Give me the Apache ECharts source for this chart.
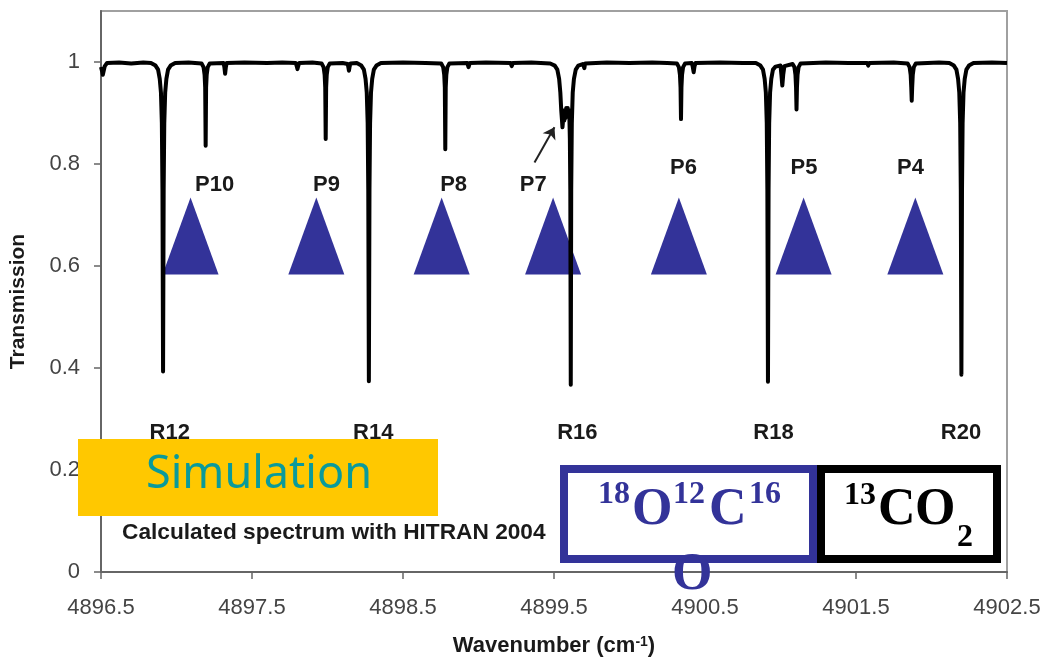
<!DOCTYPE html>
<html>
<head>
<meta charset="utf-8">
<script src="https://cdn.jsdelivr.net/npm/echarts@6/dist/echarts.min.js"></script>
<style>
html,body{margin:0;padding:0;background:#fff;}
#chart{width:1044px;height:663px;}
</style>
</head>
<body>
<div id="chart"></div>
<script>
// ---- data ----
const xTicks = [4896.5, 4897.5, 4898.5, 4899.5, 4900.5, 4901.5, 4902.5];
const yTicks = [0, 0.2, 0.4, 0.6, 0.8, 1];

// calculated transmission spectrum [wavenumber, transmission]
const spectrum = [
 [4896.500, 0.990],[4896.507, 0.982],[4896.512, 0.975],[4896.518, 0.976],[4896.525, 0.992],
 [4896.540, 0.998],[4896.620, 0.999],[4896.700, 0.997],[4896.780, 0.999],
 [4896.831, 0.998],[4896.861, 0.993],[4896.878, 0.985],[4896.889, 0.967],[4896.897, 0.940],
 [4896.903, 0.880],[4896.907, 0.750],[4896.911, 0.393],[4896.915, 0.750],[4896.919, 0.880],
 [4896.925, 0.940],[4896.933, 0.967],[4896.944, 0.985],[4896.961, 0.993],[4896.991, 0.998],
 [4897.080, 0.999],
 [4897.166, 0.997],[4897.179, 0.990],[4897.186, 0.975],[4897.190, 0.950],[4897.193, 0.836],
 [4897.196, 0.950],[4897.200, 0.975],[4897.207, 0.990],[4897.220, 0.997],
 [4897.312, 0.998],[4897.317, 0.990],[4897.322, 0.977],[4897.327, 0.990],[4897.332, 0.998],
 [4897.450, 0.999],[4897.600, 0.998],[4897.700, 0.999],
 [4897.790, 0.998],[4897.796, 0.992],[4897.801, 0.986],[4897.806, 0.992],[4897.812, 0.998],
 [4897.900, 0.999],
 [4897.961, 0.997],[4897.974, 0.990],[4897.981, 0.975],[4897.985, 0.950],[4897.988, 0.849],
 [4897.991, 0.950],[4897.995, 0.975],[4898.002, 0.990],[4898.015, 0.997],
 [4898.100, 0.998],[4898.134, 0.996],[4898.138, 0.990],[4898.142, 0.983],[4898.146, 0.990],
 [4898.152, 0.997],
 [4898.194, 0.998],[4898.224, 0.993],[4898.241, 0.985],[4898.252, 0.967],[4898.260, 0.940],
 [4898.266, 0.880],[4898.270, 0.750],[4898.274, 0.374],[4898.278, 0.750],[4898.282, 0.880],
 [4898.288, 0.940],[4898.296, 0.967],[4898.307, 0.985],[4898.324, 0.993],[4898.354, 0.998],
 [4898.500, 0.999],[4898.650, 0.998],
 [4898.753, 0.997],[4898.766, 0.990],[4898.773, 0.975],[4898.777, 0.950],[4898.780, 0.829],
 [4898.783, 0.950],[4898.787, 0.975],[4898.794, 0.990],[4898.807, 0.997],
 [4898.926, 0.998],[4898.930, 0.994],[4898.934, 0.990],[4898.938, 0.994],[4898.942, 0.998],
 [4899.050, 0.999],
 [4899.212, 0.998],[4899.216, 0.995],[4899.220, 0.992],[4899.224, 0.995],[4899.228, 0.998],
 [4899.350, 0.999],
 [4899.475, 0.997],[4899.505, 0.993],[4899.522, 0.985],[4899.534, 0.967],[4899.542, 0.940],
 [4899.548, 0.905],[4899.553, 0.885],[4899.556, 0.872],[4899.560, 0.885],[4899.564, 0.905],
 [4899.568, 0.885],[4899.572, 0.905],[4899.576, 0.890],[4899.581, 0.910],[4899.586, 0.895],
 [4899.591, 0.910],[4899.596, 0.895],[4899.601, 0.905],[4899.605, 0.850],[4899.608, 0.750],
 [4899.611, 0.367],[4899.614, 0.750],[4899.618, 0.880],[4899.624, 0.940],[4899.632, 0.967],
 [4899.644, 0.985],[4899.661, 0.993],[4899.690, 0.996],[4899.697, 0.992],[4899.701, 0.988],
 [4899.706, 0.997],
 [4899.850, 0.999],[4900.000, 0.998],[4900.150, 0.999],[4900.250, 0.998],
 [4900.314, 0.997],[4900.327, 0.990],[4900.334, 0.975],[4900.338, 0.950],[4900.341, 0.888],
 [4900.344, 0.950],[4900.348, 0.975],[4900.355, 0.990],[4900.368, 0.997],
 [4900.412, 0.998],[4900.418, 0.992],[4900.425, 0.980],[4900.431, 0.992],[4900.438, 0.998],
 [4900.600, 0.999],[4900.750, 0.998],
 [4900.837, 0.998],[4900.867, 0.993],[4900.884, 0.985],[4900.895, 0.967],[4900.903, 0.940],
 [4900.909, 0.880],[4900.913, 0.750],[4900.917, 0.373],[4900.921, 0.750],[4900.925, 0.880],
 [4900.931, 0.940],[4900.939, 0.967],[4900.950, 0.985],[4900.967, 0.991],
 [4901.000, 0.993],[4901.006, 0.975],[4901.012, 0.954],[4901.018, 0.975],[4901.026, 0.992],
 [4901.080, 0.996],
 [4901.092, 0.990],[4901.099, 0.975],[4901.103, 0.950],[4901.106, 0.907],[4901.109, 0.950],
 [4901.113, 0.975],[4901.120, 0.990],[4901.133, 0.997],
 [4901.300, 0.999],[4901.450, 0.998],
 [4901.574, 0.998],[4901.578, 0.995],[4901.581, 0.993],[4901.584, 0.995],[4901.588, 0.998],
 [4901.750, 0.999],
 [4901.842, 0.997],[4901.855, 0.990],[4901.862, 0.975],[4901.866, 0.950],[4901.869, 0.924],
 [4901.872, 0.950],[4901.876, 0.975],[4901.883, 0.990],[4901.896, 0.997],
 [4902.050, 0.999],
 [4902.118, 0.998],[4902.148, 0.993],[4902.165, 0.985],[4902.176, 0.967],[4902.184, 0.940],
 [4902.190, 0.880],[4902.194, 0.750],[4902.198, 0.387],[4902.202, 0.750],[4902.206, 0.880],
 [4902.212, 0.940],[4902.220, 0.967],[4902.231, 0.985],[4902.248, 0.993],[4902.278, 0.998],
 [4902.400, 0.999],[4902.500, 0.998]
];

// 18O12C16O marker triangles (P-branch lines)
const triangleX = [4897.093, 4897.926, 4898.756, 4899.494, 4900.327, 4901.153, 4901.893];
const triangleY = [0.659, 0.659, 0.659, 0.659, 0.659, 0.659, 0.659];

// P-line labels
const pNames = ['P10', 'P9', 'P8', 'P7', 'P6', 'P5', 'P4'];
const pX = [4897.252, 4897.993, 4898.835, 4899.363, 4900.358, 4901.156, 4901.861];
const pY = [0.759, 0.759, 0.759, 0.759, 0.793, 0.793, 0.793];

// R-line labels
const rNames = ['R12', 'R14', 'R16', 'R18', 'R20'];
const rX = [4896.955, 4898.303, 4899.655, 4900.954, 4902.195];
const rY = [0.273, 0.273, 0.272, 0.272, 0.272];

// arrow pointing at P7
const arrowFrom = [4899.371, 0.803];
const arrowTo = [4899.503, 0.872];

// ---- chart ----
const SANS = 'Liberation Sans, Arial, sans-serif';
const SERIF = 'Liberation Serif, Times New Roman, serif';
const TXT = '#1a1a1a';
const BLUE = '#333399';

const labelData = (names, xs, ys) => names.map((n, i) => ({ name: n, value: [xs[i], ys[i]] }));

const chart = echarts.init(document.getElementById('chart'), null, { renderer: 'canvas' });

const option = {
  animation: false,
  backgroundColor: '#ffffff',
  grid: { left: 98, right: 37, top: 11, bottom: 91, show: true, borderColor: '#a0a0a0', borderWidth: 2, backgroundColor: 'transparent' },
  xAxis: {
    type: 'value', min: 4896.5, max: 4902.5,
    axisLine: { show: true, onZero: false, lineStyle: { color: '#666', width: 2 } },
    axisTick: { show: true, customValues: xTicks, length: 7, lineStyle: { color: '#666', width: 1.5 } },
    axisLabel: { customValues: xTicks, formatter: v => v.toFixed(1), fontSize: 22, color: '#444', fontFamily: SANS, margin: 25 },
    splitLine: { show: false },
    name: '{a|Wavenumber (cm}{s|-1}{a|)}', nameLocation: 'middle', nameGap: 63,
    nameTextStyle: { rich: {
      a: { fontSize: 22, fontWeight: 'bold', fontFamily: SANS, color: TXT },
      s: { fontSize: 14, fontWeight: 'bold', fontFamily: SANS, color: TXT, verticalAlign: 'top', lineHeight: 14 }
    } }
  },
  yAxis: {
    type: 'value', min: 0, max: 1.1,
    axisLine: { show: true, onZero: false, lineStyle: { color: '#666', width: 2 } },
    axisTick: { show: true, customValues: yTicks, length: 7, lineStyle: { color: '#666', width: 1.5 } },
    axisLabel: { customValues: yTicks, fontSize: 22, color: '#444', fontFamily: SANS, margin: 21 },
    splitLine: { show: false },
    name: 'Transmission', nameLocation: 'middle', nameGap: 72, nameRotate: 90,
    nameTextStyle: { fontSize: 21, fontWeight: 'bold', fontFamily: SANS, color: TXT, padding: [0, 20, 0, 0] }
  },
  series: [
    {
      type: 'scatter', z: 1, silent: true,
      symbol: 'triangle', symbolSize: [56, 77],
      itemStyle: { color: BLUE, opacity: 1 },
      data: triangleX.map((x, i) => [x, triangleY[i]])
    },
    {
      type: 'line', z: 3, silent: true, showSymbol: false, symbol: 'none',
      lineStyle: { color: '#000', width: 4, join: 'round' },
      data: spectrum,
      markLine: {
        silent: true, animation: false,
        symbol: ['none', 'arrow'], symbolSize: 11,
        lineStyle: { color: '#222', width: 2, type: 'solid' },
        label: { show: false },
        data: [[{ coord: arrowFrom }, { coord: arrowTo }]]
      }
    },
    {
      type: 'scatter', z: 4, silent: true, symbolSize: 0.5,
      itemStyle: { color: '#fff', opacity: 1 },
      label: { show: true, position: 'inside', formatter: '{b}', fontSize: 22, fontWeight: 'bold', fontFamily: SANS, color: TXT, opacity: 1, textBorderWidth: 0 },
      data: labelData(pNames, pX, pY).concat(labelData(rNames, rX, rY))
    }
  ],
  graphic: [
    { type: 'rect', z: 100, shape: { x: 78, y: 439, width: 360, height: 77 }, style: { fill: '#FFC800' } },
    { type: 'text', z: 101, x: 259, y: 475, style: { text: 'Simulation', fontSize: 45, fontFamily: 'Comic Sans MS, Noto Sans, sans-serif', fill: '#0A9A9A', align: 'center', verticalAlign: 'middle' } },
    { type: 'text', z: 101, x: 122, y: 533, style: { text: 'Calculated spectrum with HITRAN 2004', fontSize: 22.7, fontWeight: 'bold', fontFamily: SANS, fill: TXT, align: 'left', verticalAlign: 'middle' } },
    { type: 'rect', z: 100, shape: { x: 564, y: 469, width: 249, height: 90 }, style: { fill: '#fff', stroke: BLUE, lineWidth: 8 } },
    { type: 'rect', z: 100, shape: { x: 821, y: 469, width: 176, height: 90 }, style: { fill: '#fff', stroke: '#000', lineWidth: 8 } },
    { type: 'text', z: 101, x: 598, y: 495, style: { text: '18', fontSize: 32, fontWeight: 'bold', fontFamily: SERIF, fill: BLUE, align: 'left', verticalAlign: 'middle' } },
    { type: 'text', z: 101, x: 632, y: 511, style: { text: 'O', fontSize: 52, fontWeight: 'bold', fontFamily: SERIF, fill: BLUE, align: 'left', verticalAlign: 'middle' } },
    { type: 'text', z: 101, x: 673, y: 495, style: { text: '12', fontSize: 32, fontWeight: 'bold', fontFamily: SERIF, fill: BLUE, align: 'left', verticalAlign: 'middle' } },
    { type: 'text', z: 101, x: 709, y: 511, style: { text: 'C', fontSize: 52, fontWeight: 'bold', fontFamily: SERIF, fill: BLUE, align: 'left', verticalAlign: 'middle' } },
    { type: 'text', z: 101, x: 749, y: 495, style: { text: '16', fontSize: 32, fontWeight: 'bold', fontFamily: SERIF, fill: BLUE, align: 'left', verticalAlign: 'middle' } },
    { type: 'text', z: 101, x: 672, y: 576, style: { text: 'O', fontSize: 52, fontWeight: 'bold', fontFamily: SERIF, fill: BLUE, align: 'left', verticalAlign: 'middle' } },
    { type: 'text', z: 101, x: 844, y: 496, style: { text: '13', fontSize: 32, fontWeight: 'bold', fontFamily: SERIF, fill: '#000', align: 'left', verticalAlign: 'middle' } },
    { type: 'text', z: 101, x: 878, y: 511, style: { text: 'C', fontSize: 52, fontWeight: 'bold', fontFamily: SERIF, fill: '#000', align: 'left', verticalAlign: 'middle' } },
    { type: 'text', z: 101, x: 915, y: 511, style: { text: 'O', fontSize: 52, fontWeight: 'bold', fontFamily: SERIF, fill: '#000', align: 'left', verticalAlign: 'middle' } },
    { type: 'text', z: 101, x: 957, y: 538, style: { text: '2', fontSize: 32, fontWeight: 'bold', fontFamily: SERIF, fill: '#000', align: 'left', verticalAlign: 'middle' } }
  ]
};
chart.setOption(option);
</script>
</body>
</html>
